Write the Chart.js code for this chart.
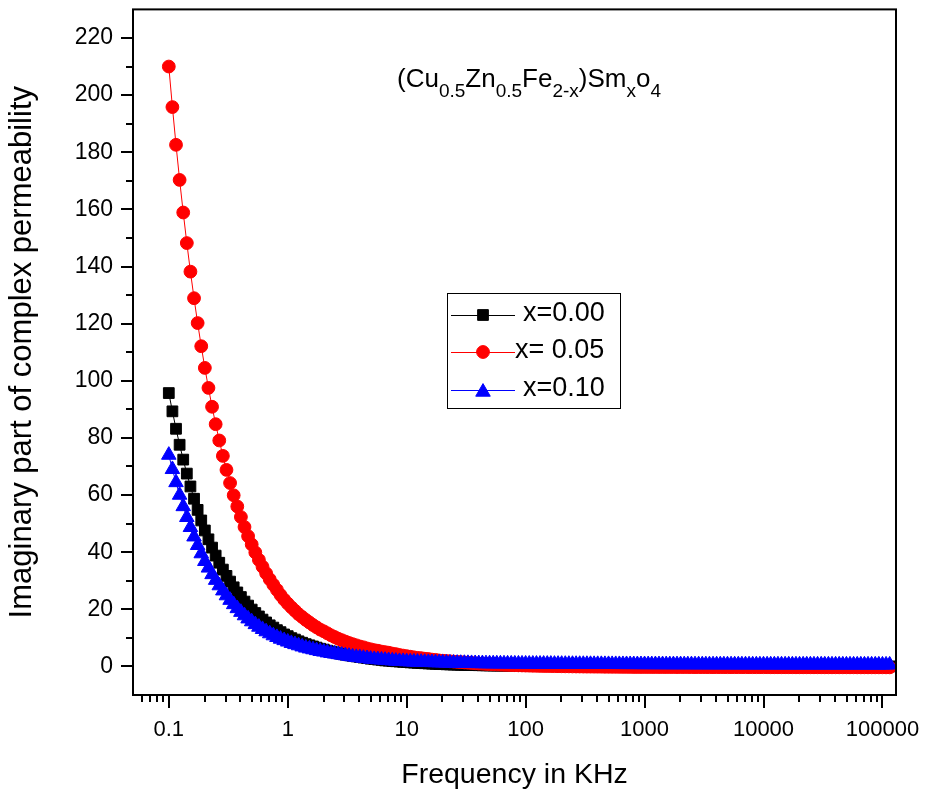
<!DOCTYPE html>
<html><head><meta charset="utf-8">
<script src="https://cdn.jsdelivr.net/npm/chart.js@4.4.1/dist/chart.umd.min.js"></script>
<style>html,body{margin:0;padding:0;background:#fff;}#wrap{position:relative;width:925px;height:799px;}</style>
</head><body><div id="wrap"><canvas id="c" width="925" height="799"></canvas></div>
<script>
const freqKHz = [
0.1,0.10723,0.11498,0.12328,0.13219,0.14175,0.15199,0.16298,0.17475,0.18738,0.20092,0.21544,0.23101,0.24771,0.26561,0.2848,0.30539,0.32745,0.35112,0.37649,0.4037,0.43288,0.46416,0.4977,0.53367,0.57224,0.61359,0.65793,0.70548,0.75646,0.81113,0.86975,0.9326,
1,1.0723,1.1498,1.2328,1.3219,1.4175,1.5199,1.6298,1.7475,1.8738,2.0092,2.1544,2.3101,2.4771,2.6561,2.848,3.0539,3.2745,3.5112,3.7649,4.037,4.3288,4.6416,4.977,5.3367,5.7224,6.1359,6.5793,7.0548,7.5646,8.1113,8.6975,9.326,
10,10.723,11.498,12.328,13.219,14.175,15.199,16.298,17.475,18.738,20.092,21.544,23.101,24.771,26.561,28.48,30.539,32.745,35.112,37.649,40.37,43.288,46.416,49.77,53.367,57.224,61.359,65.793,70.548,75.646,81.113,86.975,93.26,
100,107.23,114.98,123.28,132.19,141.75,151.99,162.98,174.75,187.38,200.92,215.44,231.01,247.71,265.61,284.8,305.39,327.45,351.12,376.49,403.7,432.88,464.16,497.7,533.67,572.24,613.59,657.93,705.48,756.46,811.13,869.75,932.6,
1000,1072.3,1149.8,1232.8,1321.9,1417.5,1519.9,1629.8,1747.5,1873.8,2009.2,2154.4,2310.1,2477.1,2656.1,2848,3053.9,3274.5,3511.2,3764.9,4037,4328.8,4641.6,4977,5336.7,5722.4,6135.9,6579.3,7054.8,7564.6,8111.3,8697.5,9326,
10000,10723,11498,12328,13219,14175,15199,16298,17475,18738,20092,21544,23101,24771,26561,28480,30539,32745,35112,37649,40370,43288,46416,49770,53367,57224,61359,65793,70548,75646,81113,86975,93260,
100000,107230,114980];

const seriesLabels = ['x=0.00', 'x= 0.05', 'x=0.10'];

const mu_x000 = [
95.7,89.3,83.2,77.6,72.4,67.5,63.0,58.7,54.8,51.1,47.6,44.5,41.6,38.8,36.3,33.9,31.7,29.7,27.7,25.9,24.3,22.7,21.3,19.9,18.7,17.5,16.4,15.4,14.4,13.6,12.7,12.0,11.2,
10.6,9.9,9.4,8.8,8.3,7.8,7.4,7.0,6.6,6.2,5.9,5.5,5.2,4.9,4.6,4.4,4.1,3.9,3.7,3.5,3.3,3.1,2.9,2.7,2.6,2.4,2.3,2.1,2.0,1.9,1.8,1.7,1.6,
1.51,1.41,1.33,1.25,1.17,1.11,1.04,0.98,0.91,0.85,0.80,0.74,0.70,0.66,0.62,0.58,0.54,0.51,0.48,0.45,0.43,0.40,0.38,0.35,0.33,0.31,0.30,0.28,0.27,0.25,0.23,0.22,0.20,
0.19,0.18,0.17,0.16,0.155,0.15,0.14,0.135,0.13,0.12,0.115,0.11,0.105,0.10,0.095,0.09,0.09,0.085,0.08,0.08,0.075,0.07,0.07,0.065,0.065,0.06,0.06,0.06,0.055,0.055,0.05,0.05,0.05,
0.05,0.05,0.045,0.045,0.045,0.04,0.04,0.04,0.04,0.04,0.035,0.035,0.035,0.035,0.035,0.03,0.03,0.03,0.03,0.03,0.03,0.03,0.025,0.025,0.025,0.025,0.025,0.025,0.025,0.02,0.02,0.02,0.02,
0.02,0.02,0.02,0.02,0.02,0.02,0.02,0.015,0.015,0.015,0.015,0.015,0.015,0.015,0.015,0.015,0.015,0.01,0.01,0.01,0.01,0.01,0.01,0.01,0.01,0.01,0.01,0.01,0.01,0.01,0.01,0.01,0.01,
0.01,0.01,0.01];

const mu_x005 = [
210.0,195.8,182.6,170.3,158.9,148.2,138.2,128.9,120.2,112.1,104.5,97.5,90.9,84.8,79.1,73.7,68.8,64.2,59.9,56.0,52.3,48.8,45.6,42.7,39.9,37.3,34.9,32.6,30.5,28.6,26.8,25.0,23.4,
22.0,20.7,19.5,18.3,17.3,16.3,15.4,14.5,13.7,12.9,12.3,11.6,10.9,10.3,9.7,9.2,8.7,8.2,7.8,7.4,7.0,6.7,6.3,6.0,5.7,5.5,5.2,5.0,4.8,4.5,4.3,4.0,3.8,
3.6,3.4,3.2,3.0,2.9,2.7,2.6,2.4,2.3,2.1,2.0,1.9,1.8,1.7,1.6,1.5,1.4,1.3,1.2,1.1,1.0,0.96,0.88,0.80,0.74,0.69,0.63,0.58,0.53,0.48,0.43,0.38,0.34,
0.30,0.27,0.24,0.21,0.18,0.16,0.14,0.12,0.10,0.08,0.06,0.04,0.02,0.00,-0.02,-0.03,-0.05,-0.06,-0.07,-0.08,-0.09,-0.10,-0.11,-0.12,-0.13,-0.14,-0.15,-0.16,-0.17,-0.18,-0.19,-0.19,-0.20,
-0.20,-0.20,-0.21,-0.21,-0.21,-0.22,-0.22,-0.22,-0.22,-0.23,-0.23,-0.23,-0.23,-0.24,-0.24,-0.24,-0.24,-0.24,-0.25,-0.25,-0.25,-0.25,-0.25,-0.26,-0.26,-0.26,-0.26,-0.26,-0.26,-0.27,-0.27,-0.27,-0.27,
-0.27,-0.27,-0.28,-0.28,-0.28,-0.28,-0.28,-0.28,-0.28,-0.29,-0.29,-0.29,-0.29,-0.29,-0.29,-0.29,-0.29,-0.30,-0.30,-0.30,-0.30,-0.30,-0.30,-0.30,-0.30,-0.30,-0.31,-0.31,-0.31,-0.31,-0.31,-0.31,-0.31,
-0.31,-0.32,-0.32];

const mu_x010 = [
74.0,69.0,64.4,60.0,56.0,52.2,48.7,45.4,42.4,39.5,36.8,34.5,32.2,30.2,28.3,26.5,24.8,23.2,21.7,20.3,19.0,17.8,16.7,15.7,14.7,13.8,13.0,12.2,11.5,10.8,10.2,9.6,9.1,
8.6,8.1,7.7,7.3,6.9,6.5,6.2,5.9,5.6,5.3,5.1,4.8,4.6,4.4,4.2,4.0,3.8,3.6,3.4,3.2,3.1,2.9,2.8,2.6,2.5,2.4,2.3,2.2,2.1,2.0,1.9,1.8,1.8,
1.70,1.65,1.60,1.56,1.52,1.48,1.44,1.40,1.36,1.33,1.30,1.27,1.24,1.21,1.19,1.16,1.14,1.12,1.09,1.07,1.05,1.03,1.01,1.00,0.98,0.97,0.96,0.95,0.94,0.93,0.92,0.915,0.91,
0.90,0.89,0.88,0.875,0.87,0.86,0.855,0.85,0.84,0.835,0.83,0.82,0.815,0.81,0.80,0.795,0.79,0.785,0.78,0.77,0.765,0.76,0.755,0.75,0.745,0.74,0.735,0.73,0.725,0.72,0.715,0.71,0.705,
0.70,0.70,0.695,0.69,0.69,0.685,0.68,0.68,0.675,0.67,0.67,0.665,0.66,0.66,0.655,0.655,0.65,0.65,0.645,0.645,0.64,0.64,0.64,0.635,0.635,0.63,0.63,0.63,0.625,0.625,0.625,0.62,0.62,
0.62,0.62,0.615,0.615,0.615,0.61,0.61,0.61,0.61,0.605,0.605,0.605,0.605,0.60,0.60,0.60,0.60,0.60,0.595,0.595,0.595,0.595,0.595,0.59,0.59,0.59,0.59,0.59,0.59,0.585,0.585,0.585,0.585,
0.58,0.58,0.58];

const xMajorTicks = [0.1, 1, 10, 100, 1000, 10000, 100000];
const xMinorMultipliers = [2, 3, 4, 5, 6, 7, 8, 9];
const yMajorTicks = [0, 20, 40, 60, 80, 100, 120, 140, 160, 180, 200, 220];
const yMinorTicks = [10, 30, 50, 70, 90, 110, 130, 150, 170, 190, 210];
const formulaParts = [['(Cu',0],['0.5',1],['Zn',0],['0.5',1],['Fe',0],['2-x',1],[')Sm',0],['x',1],['o',0],['4',1]];

const FONT = '"Liberation Sans", Arial, Helvetica, sans-serif';
const styles = [
  {color:'#000000', shape:'rect', r:7.6},
  {color:'#ff0000', shape:'circle', r:6.4},
  {color:'#0000ff', shape:'triangle', r:8.4}
];

function pts(vals){ return vals.map((v,i)=>({x:freqKHz[i], y:v})); }

function drawMarker(ctx, shape, x, y, r, color){
  ctx.fillStyle = color; ctx.strokeStyle = color; ctx.lineWidth = 1;
  ctx.beginPath();
  if (shape === 'rect'){ const s = Math.SQRT1_2 * r; ctx.rect(x - s, y - s, 2*s, 2*s); }
  else if (shape === 'circle'){ ctx.arc(x, y, r, 0, Math.PI*2); }
  else { ctx.moveTo(x, y - r); ctx.lineTo(x + r*Math.sin(Math.PI*2/3), y - r*Math.cos(Math.PI*2/3)); ctx.lineTo(x + r*Math.sin(Math.PI*4/3), y - r*Math.cos(Math.PI*4/3)); ctx.closePath(); }
  ctx.fill(); ctx.stroke();
}

const framePlugin = {
  id:'frame',
  afterDraw(chart){
    const {ctx, chartArea:a, scales:{x, y}} = chart;
    ctx.save();
    ctx.strokeStyle = '#000'; ctx.lineWidth = 2;
    ctx.strokeRect(a.left, a.top, a.right - a.left, a.bottom - a.top);
    ctx.beginPath();
    for (const v of xMajorTicks){ const p = Math.round(x.getPixelForValue(v)); ctx.moveTo(p, a.bottom); ctx.lineTo(p, a.bottom + 13); }
    for (let e = -2; e <= 5; e++){
      for (const m of xMinorMultipliers){
        const v = m * Math.pow(10, e);
        if (v <= x.min || v >= x.max) continue;
        const p = Math.round(x.getPixelForValue(v)); ctx.moveTo(p, a.bottom); ctx.lineTo(p, a.bottom + 7);
      }
    }
    for (const v of yMajorTicks){ const p = Math.round(y.getPixelForValue(v)); ctx.moveTo(a.left, p); ctx.lineTo(a.left - 12, p); }
    for (const v of yMinorTicks){ const p = Math.round(y.getPixelForValue(v)); ctx.moveTo(a.left, p); ctx.lineTo(a.left - 7, p); }
    ctx.stroke();

    // formula annotation
    let cx = 397;
    ctx.fillStyle = '#000'; ctx.textBaseline = 'alphabetic'; ctx.textAlign = 'left';
    for (const [t, sub] of formulaParts){
      ctx.font = (sub ? '19px ' : '26px ') + FONT;
      ctx.fillText(t, cx, sub ? 97 : 87);
      cx += ctx.measureText(t).width;
    }

    // legend
    ctx.lineWidth = 1; ctx.strokeStyle = '#000';
    ctx.strokeRect(447.5, 293.5, 173, 115);
    const rows = [315, 352, 390];
    const textX = [523, 515, 523];
    chart.data.datasets.forEach((ds, i) => {
      const st = styles[i];
      ctx.strokeStyle = st.color; ctx.lineWidth = 1;
      ctx.beginPath(); ctx.moveTo(451, rows[i] + 0.5); ctx.lineTo(515, rows[i] + 0.5); ctx.stroke();
      drawMarker(ctx, st.shape, 483, rows[i] + (st.shape === 'triangle' ? 2 : 0), st.r, st.color);
      ctx.fillStyle = '#000'; ctx.font = '27px ' + FONT; ctx.textBaseline = 'middle';
      ctx.fillText(ds.label, textX[i], rows[i] - 1);
    });
    ctx.restore();
  }
};

const datasets = [mu_x000, mu_x005, mu_x010].map((vals, i) => ({
  label: seriesLabels[i],
  data: pts(vals),
  showLine: true,
  borderColor: styles[i].color,
  backgroundColor: styles[i].color,
  borderWidth: 1,
  pointStyle: styles[i].shape,
  pointRadius: styles[i].r,
  pointBorderWidth: 1,
  pointBorderColor: styles[i].color,
  pointBackgroundColor: styles[i].color,
  tension: 0,
  order: 3 - i
}));

new Chart(document.getElementById('c'), {
  type: 'scatter',
  data: { datasets },
  options: {
    animation: false, responsive: false, events: [],
    layout: { padding: { top: 8, right: 29, bottom: 0, left: 0 } },
    plugins: { legend: { display: false }, tooltip: { enabled: false } },
    scales: {
      x: {
        type: 'logarithmic', min: 0.05, max: 130000, position: 'bottom',
        grid: { display: false, drawTicks: false }, border: { display: false },
        ticks: { font: { family: FONT, size: 22 }, color: '#000', padding: 22, maxRotation: 0, autoSkip: false,
                 callback: (v) => xMajorTicks.includes(v) ? String(v) : '' },
        title: { display: true, text: 'Frequency in KHz', color: '#000', font: { family: FONT, size: 28.5 }, padding: { top: 0, bottom: 7 } },
        afterBuildTicks: (s) => { s.ticks = xMajorTicks.map(v => ({ value: v })); },
        afterFit: (s) => { s.height = 104; s.paddingLeft = 0; s.paddingRight = 0; s.paddingTop = 0; s.paddingBottom = 0; }
      },
      y: {
        type: 'linear', min: -10, max: 230, position: 'left',
        grid: { display: false, drawTicks: false }, border: { display: false },
        ticks: { font: { family: FONT, size: 23 }, color: '#000', padding: 20, autoSkip: false },
        title: { display: true, text: 'Imaginary part of complex permeability', color: '#000', font: { family: FONT, size: 31 }, padding: { top: 4, bottom: 0 } },
        afterBuildTicks: (s) => { s.ticks = yMajorTicks.map(v => ({ value: v })); },
        afterFit: (s) => { s.width = 133; s.paddingLeft = 0; s.paddingRight = 0; s.paddingTop = 0; s.paddingBottom = 0; }
      }
    }
  },
  plugins: [framePlugin]
});
</script></body></html>
